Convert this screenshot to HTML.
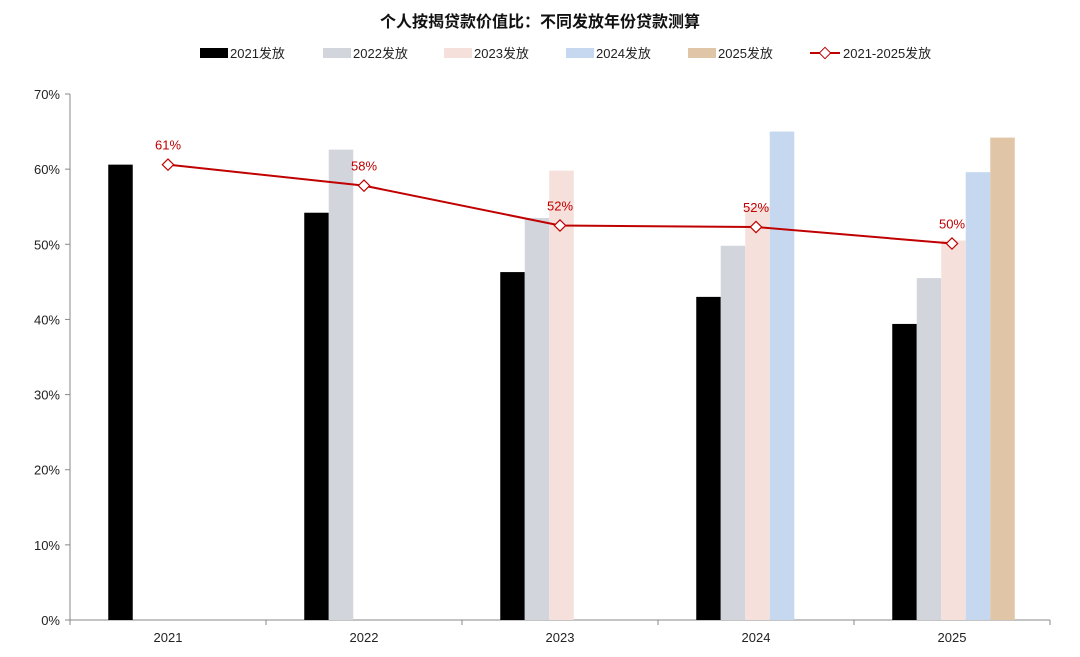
<!DOCTYPE html>
<html><head><meta charset="utf-8"><style>
body{margin:0;background:#fff;font-family:"Liberation Sans","Noto Sans CJK SC",sans-serif}
svg text{font-family:"Liberation Sans","Noto Sans CJK SC",sans-serif}
</style></head><body>
<svg id="c" width="1080" height="652">
<text x="540" y="27" text-anchor="middle" font-size="16" font-weight="bold" fill="#111">个人按揭贷款价值比：不同发放年份贷款测算</text>
<g id="legend"></g>
<g id="axes"></g><g id="bars"></g><g id="line"></g>
</svg>
<script>
const categories=["2021","2022","2023","2024","2025"];
const seriesNames=["2021发放","2022发放","2023发放","2024发放","2025发放"];
const colors=["#000000","#d3d5dd","#f6e0dc","#c6d8f0","#e0c6a6"];
const s2021=[60.6,54.2,46.3,43.0,39.4];
const s2022=[null,62.6,53.5,49.8,45.5];
const s2023=[null,null,59.8,55.0,50.5];
const s2024=[null,null,null,65.0,59.6];
const s2025=[null,null,null,null,64.2];
const lineVals=[60.6,57.8,52.5,52.3,50.1];
const lineLabels=["61%","58%","52%","52%","50%"];
const yTicks=[0,10,20,30,40,50,60,70];
const series=[s2021,s2022,s2023,s2024,s2025];
const NS="http://www.w3.org/2000/svg";
const x0=70,x1=1050,yTop=94,yBot=620;
const gw=(x1-x0)/categories.length, bw=24.5;
const y=v=>yBot-(v/70)*(yBot-yTop);
const cx=i=>x0+gw*(i+0.5);
function mk(t,a,p){const e=document.createElementNS(NS,t);for(const k in a)e.setAttribute(k,a[k]);p.appendChild(e);return e;}
const ax=document.getElementById('axes');
let yl=mk('line',{x1:x0,x2:x0,y1:yTop,y2:yBot,stroke:'#888'},ax);


let xl=mk('line',{x1:x0,x2:x1,y1:yBot,y2:yBot,stroke:'#888'},ax);


yTicks.forEach(t=>{mk('line',{x1:x0-5,x2:x0,y1:y(t),y2:y(t),stroke:'#888'},ax);
 const tx=mk('text',{x:x0-10,y:y(t)+5,'text-anchor':'end','font-size':13,fill:'#222'},ax);tx.textContent=t+'%';
 
 });
categories.forEach((c,i)=>{mk('line',{x1:x0+gw*i,x2:x0+gw*i,y1:yBot,y2:yBot+5,stroke:'#888'},ax);
 const tx=mk('text',{x:cx(i),y:yBot+22,'text-anchor':'middle','font-size':13,fill:'#222'},ax);tx.textContent=c;
 
 });
mk('line',{x1:x1,x2:x1,y1:yBot,y2:yBot+5,stroke:'#888'},ax);
const bg=document.getElementById('bars');
series.forEach((s,k)=>s.forEach((v,i)=>{if(v==null)return;
 const r=mk('rect',{x:cx(i)-2.5*bw+k*bw+1.5,y:y(v),width:bw,height:yBot-y(v),fill:colors[k]},bg);
 
 }));
const lg=document.getElementById('line');
const pl=mk('polyline',{points:lineVals.map((v,i)=>cx(i)+','+y(v)).join(' '),fill:'none',stroke:'#c00000','stroke-width':2},lg);


lineVals.forEach((v,i)=>{const d=mk('rect',{x:cx(i)-4,y:y(v)-4,width:8,height:8,fill:'#fff',stroke:'#c00000','stroke-width':1.2,transform:`rotate(45 ${cx(i)} ${y(v)})`},lg);
 
 
 const t=mk('text',{x:cx(i),y:y(v)-15,'text-anchor':'middle','font-size':13,fill:'#c00000'},lg);t.textContent=lineLabels[i];
 
 });
const L=document.getElementById('legend');
const lx=[200,323,444,566,688];
seriesNames.forEach((n,k)=>{const r=mk('rect',{x:lx[k],y:48,width:28,height:10,fill:colors[k]},L);
 
 
 const t=mk('text',{x:lx[k]+30,y:58,'font-size':13,fill:'#222'},L);t.textContent=n;
 
 });
mk('line',{x1:810,x2:840,y1:53,y2:53,stroke:'#c00000','stroke-width':2},L);
mk('rect',{x:821,y:49,width:8,height:8,fill:'#fff',stroke:'#c00000',transform:'rotate(45 825 53)'},L);
const lt=mk('text',{x:843,y:58,'font-size':13,fill:'#222'},L);lt.textContent='2021-2025发放';


</script>
</body></html>
